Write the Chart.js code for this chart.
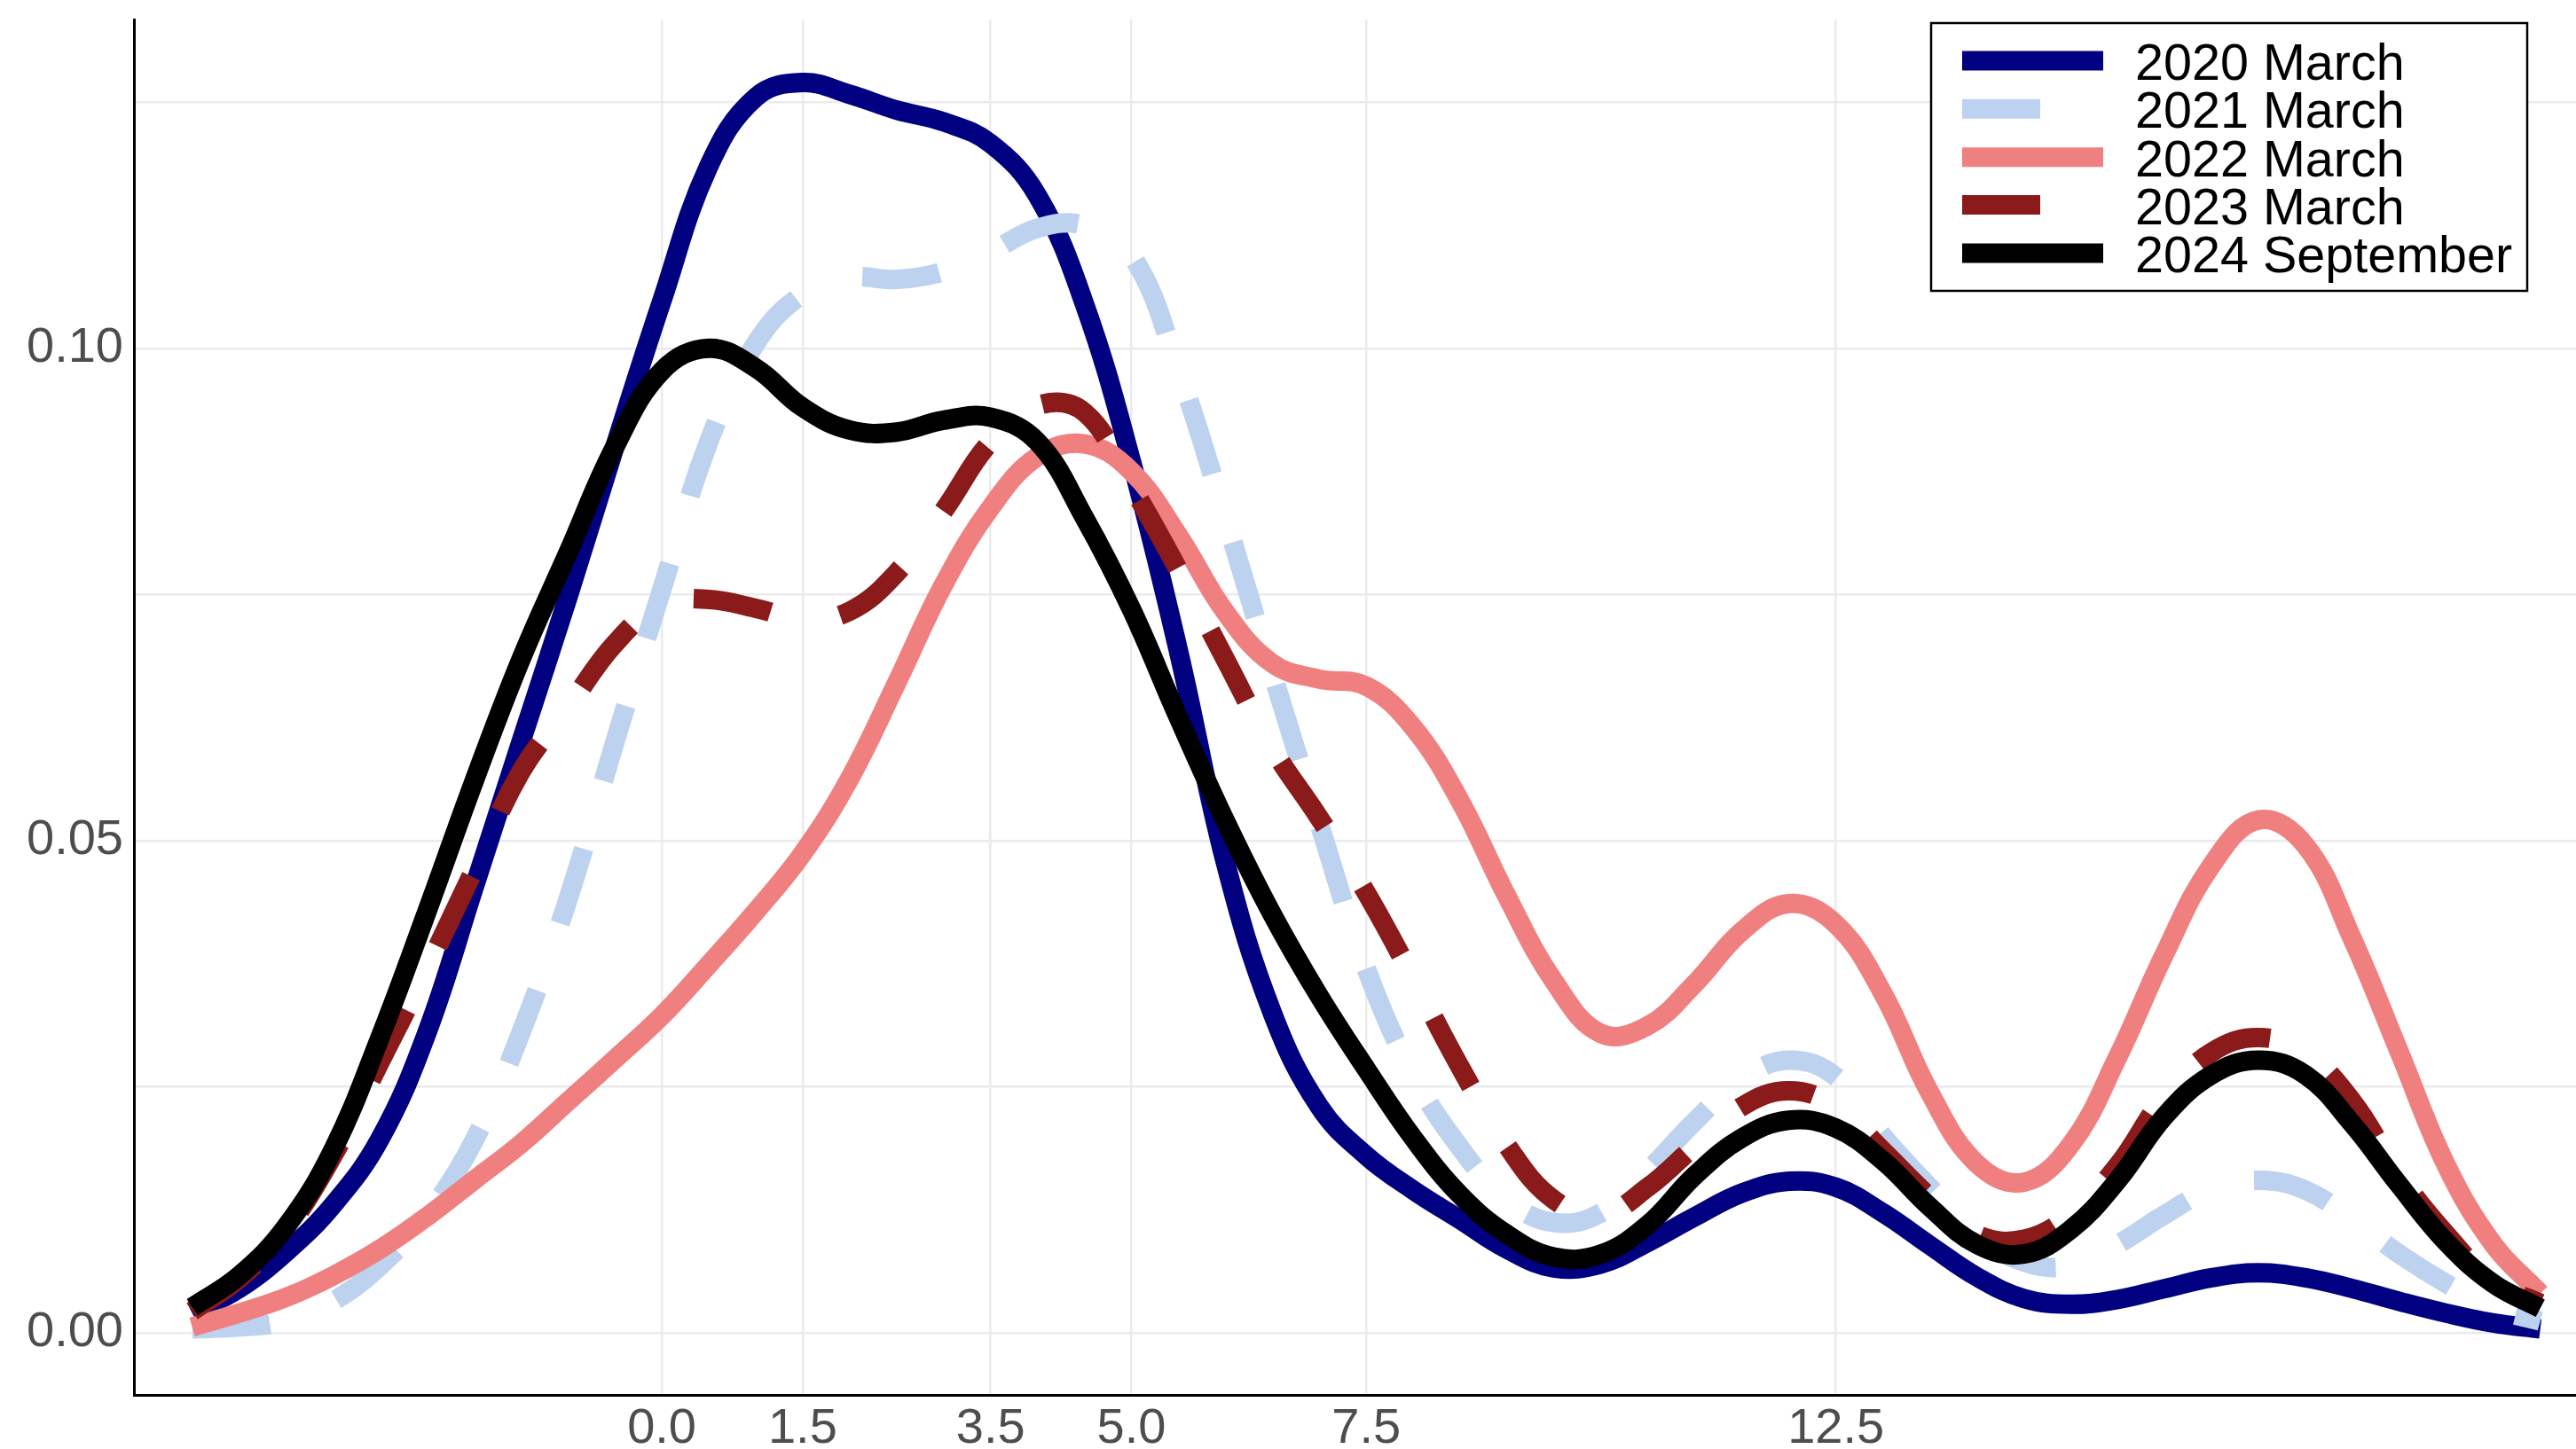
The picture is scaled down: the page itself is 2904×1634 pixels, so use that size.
<!DOCTYPE html>
<html>
<head>
<meta charset="utf-8">
<title>Density by survey wave</title>
<script src="https://cdn.jsdelivr.net/npm/chart.js@4.4.1/dist/chart.umd.min.js"></script>
<style>
  html, body { margin: 0; padding: 0; background: #fff; }
  #wrap { position: relative; width: 2904px; height: 1634px; }
</style>
</head>
<body>
<div id="wrap"><canvas id="densityChart"></canvas></div>
<script>
const xValues = [
  -5, -4.5, -4, -3.5, -3, -2.5, -2, -1.5, -1, -0.5,
  0, 0.5, 1, 1.5, 2, 2.5, 3, 3.5, 4, 4.5,
  5, 5.5, 6, 6.5, 7, 7.5, 8, 8.5, 9, 9.5,
  10, 10.5, 11, 11.5, 12, 12.5, 13, 13.5, 14, 14.5,
  15, 15.5, 16, 16.5, 17, 17.5, 18, 18.5, 19, 19.5, 20
];

const march2020 = [
  0.0020, 0.0045, 0.0082, 0.0130, 0.0197, 0.0305, 0.0452, 0.0600, 0.0747, 0.0900,
  0.1048, 0.1185, 0.1255, 0.1270, 0.1258, 0.1242, 0.1230, 0.1208, 0.1155, 0.1045,
  0.0885, 0.0693, 0.0478, 0.0325, 0.0230, 0.0180, 0.0145, 0.0115, 0.0085, 0.0066,
  0.0070, 0.0092, 0.0118, 0.0142, 0.0154, 0.0148, 0.0122, 0.0089, 0.0057, 0.0035,
  0.0029, 0.0034, 0.0045, 0.0056, 0.0061, 0.0056, 0.0045, 0.0032, 0.0020, 0.0010, 0.0004
];

const march2021 = [
  0.0004, 0.0006, 0.0012, 0.0032, 0.0068, 0.0120, 0.0195, 0.0305, 0.0440, 0.0600,
  0.0755, 0.0905, 0.1005, 0.1055, 0.1072, 0.1070, 0.1078, 0.1098, 0.1122, 0.1125,
  0.1095, 0.0978, 0.0828, 0.0670, 0.0517, 0.0370, 0.0262, 0.0188, 0.0135, 0.0112,
  0.0122, 0.0165, 0.0215, 0.0258, 0.0277, 0.0260, 0.0200, 0.0148, 0.0100, 0.0072,
  0.0068, 0.0090, 0.0120, 0.0146, 0.0155, 0.0145, 0.0115, 0.0080, 0.0050, 0.0025, 0.0012
];

const march2022 = [
  0.0006, 0.0020, 0.0036, 0.0058, 0.0085, 0.0118, 0.0155, 0.0192, 0.0235, 0.0278,
  0.0322, 0.0374, 0.0428, 0.0487, 0.0563, 0.0660, 0.0760, 0.0838, 0.0890, 0.0903,
  0.0875, 0.0810, 0.0732, 0.0680, 0.0664, 0.0657, 0.0615, 0.0540, 0.0443, 0.0357,
  0.0304, 0.0312, 0.0355, 0.0408, 0.0436, 0.0415, 0.0345, 0.0244, 0.0172, 0.0153,
  0.0191, 0.0280, 0.0385, 0.0475, 0.0521, 0.0495, 0.0400, 0.0285, 0.0170, 0.0090, 0.0040
];

const march2023 = [
  0.0022, 0.0055, 0.0105, 0.0180, 0.0275, 0.0370, 0.0470, 0.0570, 0.0635, 0.0700,
  0.0740, 0.0745, 0.0736, 0.0725, 0.0733, 0.0772, 0.0835, 0.0905, 0.0942, 0.0935,
  0.0860, 0.0775, 0.0684, 0.0594, 0.0523, 0.0447, 0.0360, 0.0270, 0.0190, 0.0135,
  0.0120, 0.0148, 0.0190, 0.0230, 0.0246, 0.0230, 0.0185, 0.0138, 0.0100, 0.0095,
  0.0120, 0.0170, 0.0240, 0.0285, 0.0300, 0.0284, 0.0235, 0.0160, 0.0100, 0.0052, 0.0030
];

const september2024 = [
  0.0026, 0.0058, 0.0108, 0.0186, 0.0300, 0.0428, 0.0560, 0.0684, 0.0792, 0.0900,
  0.0977, 0.1000, 0.0980, 0.0940, 0.0917, 0.0915, 0.0927, 0.0930, 0.0905, 0.0828,
  0.0735, 0.0625, 0.0520, 0.0425, 0.0342, 0.0268, 0.0198, 0.0140, 0.0100, 0.0077,
  0.0080, 0.0110, 0.0160, 0.0198, 0.0216, 0.0208, 0.0175, 0.0128, 0.0090, 0.0080,
  0.0105, 0.0155, 0.0220, 0.0262, 0.0277, 0.0262, 0.0212, 0.0150, 0.0092, 0.0050, 0.0025
];

const seriesLabels = ["2020 March", "2021 March", "2022 March", "2023 March", "2024 September"];
const xTicks = [0, 1.5, 3.5, 5, 7.5, 12.5];
const yTicks = [0, 0.025, 0.05, 0.075, 0.1, 0.125];
const yLabelled = [0, 0.05, 0.1];

const FONT = "'Liberation Sans', Arial, Helvetica, sans-serif";
const LINE_W = 22;
const DASH = [88, 80];

function toPoints(ys) {
  return xValues.map((x, i) => ({ x, y: ys[i] }));
}

function line(label, ys, color, dashed, order) {
  return {
    label,
    data: toPoints(ys),
    borderColor: color,
    backgroundColor: color,
    borderWidth: LINE_W,
    borderDash: dashed ? DASH : [],
    borderJoinStyle: "round",
    tension: 0.4,
    pointRadius: 0,
    fill: false,
    order,
  };
}

const datasets = [
  line(seriesLabels[0], march2020, "#000080", false, 5),
  line(seriesLabels[1], march2021, "#BCD2EE", true, 4),
  line(seriesLabels[2], march2022, "#F08080", false, 3),
  line(seriesLabels[3], march2023, "#8B1A1A", true, 2),
  line(seriesLabels[4], september2024, "#000000", false, 1),
];

// legend drawn by hand: box in the top right of the plot, ggplot style keys
const boxLegend = {
  id: "boxLegend",
  afterDraw(chart) {
    const ctx = chart.ctx;
    const left = 2177, top = 26, w = 672, h = 302;
    ctx.save();
    ctx.fillStyle = "#fff";
    ctx.fillRect(left, top, w, h);
    ctx.lineWidth = 2.5;
    ctx.strokeStyle = "#000";
    ctx.strokeRect(left, top, w, h);

    const rowY = [68.5, 122.8, 177.2, 231, 285.5];
    chart.data.datasets.forEach((ds, i) => {
      const y = rowY[i];
      ctx.beginPath();
      ctx.lineWidth = LINE_W;
      ctx.lineCap = "butt";
      ctx.strokeStyle = ds.borderColor;
      ctx.setLineDash(ds.borderDash || []);
      ctx.moveTo(2212, y);
      ctx.lineTo(2371, y);
      ctx.stroke();
      ctx.setLineDash([]);

      ctx.fillStyle = "#000";
      ctx.font = "57.5px " + FONT;
      ctx.textAlign = "left";
      ctx.textBaseline = "alphabetic";
      ctx.fillText(ds.label, 2407, y + 21.5);
    });
    ctx.restore();
  },
};

new Chart(document.getElementById("densityChart"), {
  type: "line",
  data: { datasets },
  options: {
    responsive: true,
    maintainAspectRatio: false,
    animation: false,
    devicePixelRatio: 1,
    layout: { padding: { top: 22, right: 0, bottom: 0, left: 0 } },
    plugins: {
      legend: { display: false },
      tooltip: { enabled: false },
    },
    scales: {
      x: {
        type: "linear",
        min: -5.62,
        max: 20.38,
        afterFit: (s) => { s.height = 61; s.paddingLeft = 0; s.paddingRight = 0; },
        afterBuildTicks: (s) => { s.ticks = xTicks.map((v) => ({ value: v })); },
        grid: { color: "#EBEBEB", lineWidth: 2.5, drawTicks: false },
        border: { display: true, color: "#000", width: 3 },
        ticks: {
          padding: 5,
          maxRotation: 0,
          autoSkip: false,
          color: "#4D4D4D",
          font: { family: FONT, size: 56 },
          callback: (v) => Number(v).toFixed(1),
        },
      },
      y: {
        min: -0.0063,
        max: 0.1334,
        afterFit: (s) => { s.width = 151; s.paddingTop = 0; s.paddingBottom = 0; },
        afterBuildTicks: (s) => { s.ticks = yTicks.map((v) => ({ value: v })); },
        grid: { color: "#EBEBEB", lineWidth: 2.5, drawTicks: false },
        border: { display: true, color: "#000", width: 3 },
        ticks: {
          padding: 12,
          autoSkip: false,
          color: "#4D4D4D",
          font: { family: FONT, size: 56 },
          callback: (v) => yLabelled.some((t) => Math.abs(t - v) < 1e-9) ? Number(v).toFixed(2) : "",
        },
      },
    },
  },
  plugins: [boxLegend],
});
</script>
</body>
</html>
